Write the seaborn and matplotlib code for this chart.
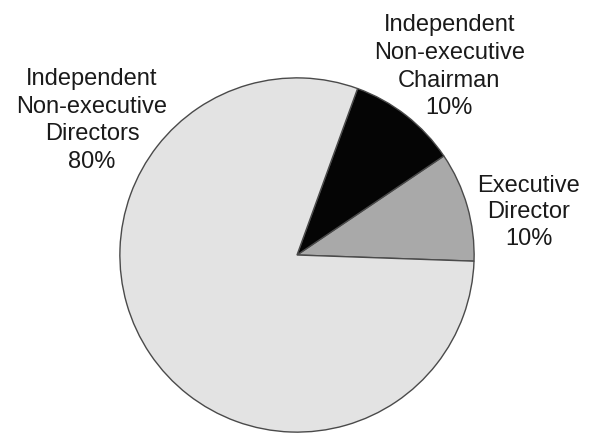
import matplotlib
matplotlib.use("Agg")
import matplotlib.pyplot as plt
import seaborn as sns

# Board composition shares
roles = ["Executive\nDirector", "Independent\nNon-executive\nChairman", "Independent\nNon-executive\nDirectors"]
shares = [10, 10, 80]
slice_colors = ["#a9a9a9", "#050505", "#e3e3e3"]

sns.set_theme(style="white")
plt.rcParams["font.family"] = ["Liberation Sans", "DejaVu Sans"]

fig = plt.figure(figsize=(5.95, 4.33), dpi=100)
fig.patch.set_facecolor("white")
ax = fig.add_axes([119 / 595, 0.0, 356 / 595, 356 / 433])
ax.set_aspect("equal")

wedges, _ = ax.pie(
    shares,
    colors=slice_colors,
    startangle=-2,
    counterclock=True,
    radius=1.0,
    wedgeprops=dict(edgecolor="#4a4a4a", linewidth=1.0),
)
ax.set_xlim(-1.005, 1.005)
ax.set_ylim(-1.005, 1.005)
ax.axis("off")

# label anchor points (data units, relative to the pie centre)
label_pos = [(1.309, 0.242), (0.86, 1.062), (-1.157, 0.76)]
line_gap = [1.27, 1.33, 1.32]
for role, share, (lx, ly), gap in zip(roles, shares, label_pos, line_gap):
    ax.text(lx, ly, f"{role}\n{share}%", ha="center", va="center",
            fontsize=17, color="#1a1a1a", linespacing=gap)

fig.savefig("out.png", dpi=100, facecolor="white")
